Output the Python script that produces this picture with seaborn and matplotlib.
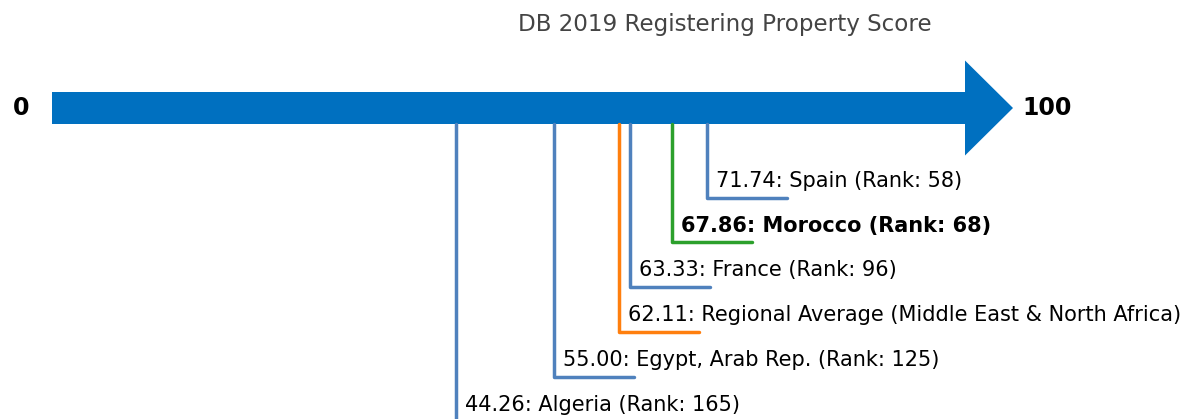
import numpy as np
import pandas as pd
import matplotlib.pyplot as plt
import seaborn as sns

# data
names = ["Spain", "Morocco", "France", "Regional Average", "Egypt, Arab Rep.", "Algeria"]
scores = [71.74, 67.86, 63.33, 62.11, 55.00, 44.26]
ranks = [58, 68, 96, None, 125, 165]
kinds = ["peer", "focus", "peer", "region", "peer", "peer"]

colors = {"peer": "#4f81bd", "focus": "#2ca02c", "region": "#ff7f0e"}

sns.set_theme(style="white")
plt.rcParams['font.family'] = ['DejaVu Sans']

fig = plt.figure(figsize=(11.83, 4.19), dpi=100)
ax = fig.add_axes([0, 0, 1, 1])

# x: score units (0 -> px 52, 100 -> px 965), y: levels below the arrow
px = 9.13
step = 44.8
ax.set_xlim(-52 / px, (1183 - 52) / px)
ax.set_ylim((419 - 108) / step, -108 / step)
ax.axis("off")

# arrow
head_len = 48 / px
body_h = 16 / step
head_h = 47.5 / step
ax.fill([0, 100, 100, 100 + head_len, 100, 100, 0],
        [-body_h, -body_h, -head_h, 0, head_h, body_h, body_h],
        color="#0070c0", lw=0)
ax.text(-3.4, 0, "0", ha="center", va="center", fontsize=17, fontweight="bold", color="black")
ax.text(100 + head_len + 1, 0, "100", ha="left", va="center", fontsize=17, fontweight="bold",
        color="black")

# connectors
seg = 80 / px
for i, (n, s, r, k) in enumerate(zip(names, scores, ranks, kinds)):
    lvl = i + 2
    df = pd.DataFrame({"x": [s, s, s + seg], "y": [body_h, lvl, lvl]})
    sns.lineplot(data=df, x="x", y="y", sort=False, color=colors[k], lw=2.5, ax=ax,
                 estimator=None)
    if r is None:
        label = f"{s:.2f}: {n} (Middle East & North Africa)"
    else:
        label = f"{s:.2f}: {n} (Rank: {r})"
    ax.text(s + 1.0, lvl - 0.15, label, ha="left", va="bottom", fontsize=15,
            fontweight="bold" if k == "focus" else "normal", color="black")

ax.set_xlabel("")
ax.set_ylabel("")
fig.text(725 / 1183, 1 - 24 / 419, "DB 2019 Registering Property Score", ha="center",
         va="center", fontsize=16.6, color="#444444")

fig.savefig("out.png", dpi=100)
